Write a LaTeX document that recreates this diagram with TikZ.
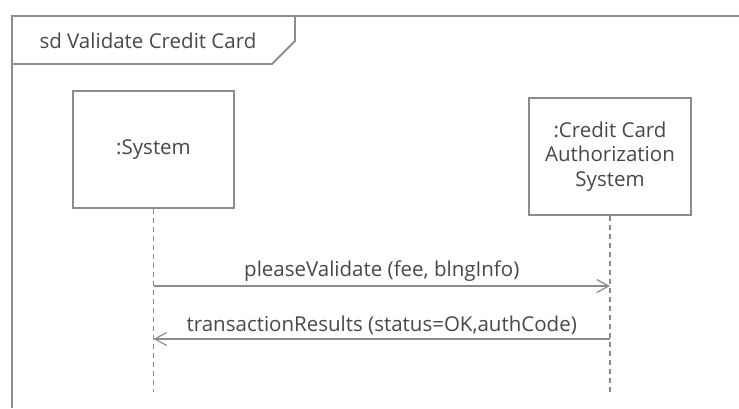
\documentclass[tikz,border=0pt]{standalone}
\usepackage{fontspec}
\setmainfont{Open Sans}
\usetikzlibrary{arrows.meta}
\definecolor{linegray}{HTML}{8C8C8C}
\definecolor{textgray}{HTML}{484848}
\begin{document}
\begin{tikzpicture}[x=1pt,y=-1pt,
  every node/.style={text=textgray, font=\fontsize{20.5}{24.5}\selectfont},
  lifebox/.style={draw=linegray, line width=1.8pt, fill=white, align=center, inner sep=0pt},
  lifeline/.style={draw=linegray, line width=1.2pt, dash pattern=on 5pt off 4pt},
  msg/.style={draw=linegray, line width=1.5pt, -{Straight Barb[length=12pt,width=13pt,line width=1.2pt]}},
  frameline/.style={draw=linegray, line width=1.8pt}]
\useasboundingbox (0,0) rectangle (739,408);
% frame
\draw[frameline] (12,408) -- (12,16) -- (739,16);
\draw[frameline] (12,64) -- (272,64) -- (295,41) -- (295,16);
\node[anchor=west] (title) at (36,41) {sd Validate Credit Card};
% lifelines
\node[lifebox, minimum width=161pt, minimum height=117pt] (sys) at (153.5,149.5) {:System};
\node[lifebox, minimum width=162pt, minimum height=117pt] (cca) at (610,156.5) {:Credit Card\\Authorization\\System};
\coordinate (sysend) at (153.5,392);
\coordinate (ccaend) at (610,392);
\draw[lifeline] (sys.south) -- (sysend);
\draw[lifeline] (cca.south) -- (ccaend);
% messages
\coordinate (m1s) at (153.5,286);
\coordinate (m1e) at (610,286);
\coordinate (m2s) at (610,339);
\coordinate (m2e) at (153.5,339);
\draw[msg] (m1s) -- node[above=0.5pt] (l1) {pleaseValidate (fee, blngInfo)} (m1e);
\draw[msg] (m2s) -- node[above=0.5pt] (l2) {transactionResults (status=OK,authCode)} (m2e);
\end{tikzpicture}
\end{document}
